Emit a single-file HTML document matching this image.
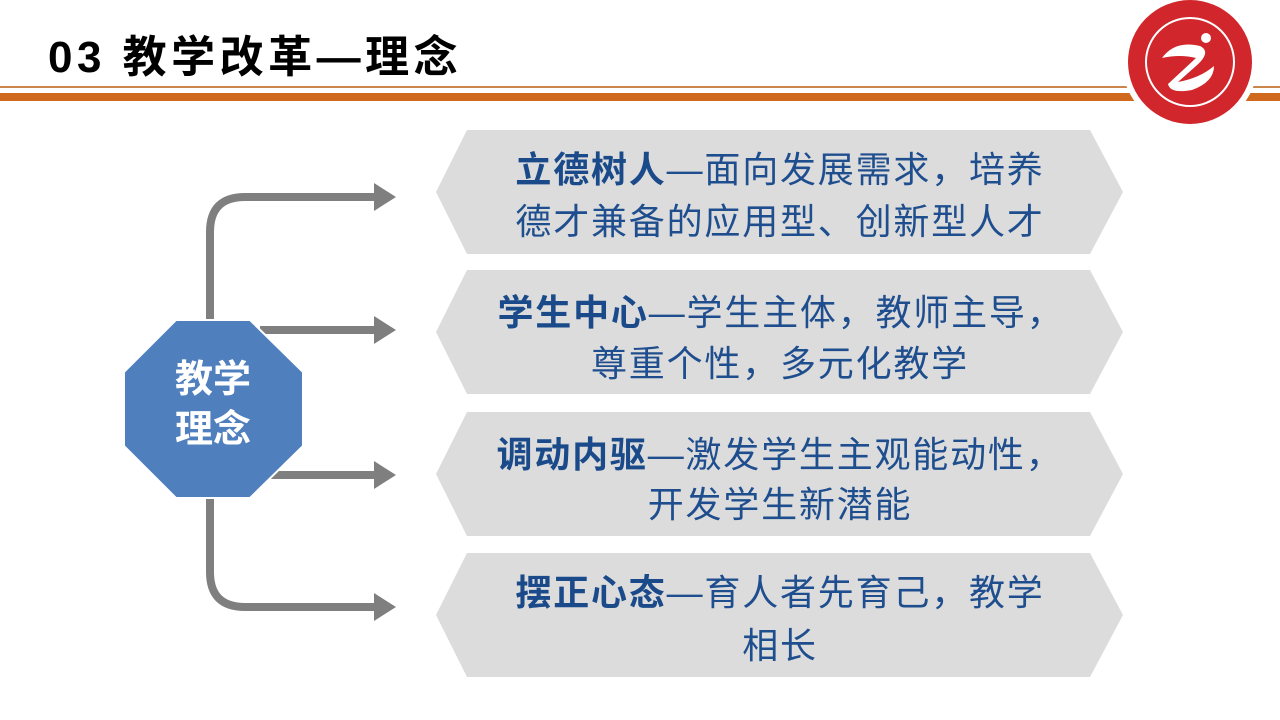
<!DOCTYPE html>
<html><head><meta charset="utf-8"><style>
body{margin:0;width:1280px;height:720px;background:#fff;position:relative;overflow:hidden;font-family:"Liberation Sans","Noto Sans CJK SC",sans-serif}
.t{position:absolute;white-space:nowrap;text-align:center;width:800px;left:380px;font-size:36px;line-height:40px;color:#1f4e8f;letter-spacing:1.8px}
.t b{color:#1a4a8a}
</style></head><body>
<div style="position:absolute;left:48px;top:30px;font-size:44px;font-weight:bold;color:#000;line-height:56px;white-space:nowrap;letter-spacing:4.5px">03 教学改革—理念</div>
<div style="position:absolute;left:0;top:86px;width:1280px;height:2px;background:#c9854a"></div>
<div style="position:absolute;left:0;top:93px;width:1280px;height:8px;background:#d0691e"></div>
<svg width="1280" height="720" style="position:absolute;left:0;top:0">
<g>
<circle cx="1190" cy="62" r="68" fill="#fff"/>
<circle cx="1190" cy="62" r="62" fill="#d1262b"/>
<circle cx="1190" cy="62" r="44" fill="none" stroke="#fff" stroke-width="2"/>
<circle cx="1190" cy="62" r="40" fill="#d1262b"/>
<path d="M1162 58 Q1175 40 1200 46 Q1212 52 1196 66 L1178 82 Q1200 78 1214 66 Q1214 82 1192 90 Q1170 94 1168 84 L1196 58 Q1180 54 1162 58Z" fill="#fff"/>
<circle cx="1206" cy="38" r="5" fill="#fff"/>
<text x="1190" y="86" font-size="7" fill="#fff" text-anchor="middle" font-family="Liberation Sans">1958</text>
</g>
<g fill="#dcdcdc">
<polygon points="467,130 1090,130 1123,192 1090,254 467,254 436,192"/>
<polygon points="467,270 1090,270 1123,332 1090,394 467,394 436,332"/>
<polygon points="467,412 1090,412 1123,474 1090,536 467,536 436,474"/>
<polygon points="467,553 1090,553 1123,615 1090,677 467,677 436,615"/>
</g>
<g stroke="#7f7f7f" stroke-width="8" fill="none">
<path d="M210 330 L210 232 Q210 197 245 197 L378 197"/>
<path d="M260 330 L378 330"/>
<path d="M260 475 L378 475"/>
<path d="M210 490 L210 572 Q210 607 245 607 L378 607"/>
</g>
<g fill="#7f7f7f">
<polygon points="374,183 396,197 374,211"/>
<polygon points="374,316 396,330 374,344"/>
<polygon points="374,461 396,475 374,489"/>
<polygon points="374,593 396,607 374,621"/>
</g>
<polygon points="176,320 250,320 303,372 303,446 250,498 176,498 124,446 124,372" fill="#4f7fbd" stroke="#fff" stroke-width="2"/>
<text x="213" y="392" font-size="38" font-weight="bold" fill="#fff" text-anchor="middle" font-family="Liberation Sans,Noto Sans CJK SC,sans-serif">教学</text>
<text x="213" y="442" font-size="38" font-weight="bold" fill="#fff" text-anchor="middle" font-family="Liberation Sans,Noto Sans CJK SC,sans-serif">理念</text>
</svg>
<div class="t" style="top:150px"><b>立德树人</b>—面向发展需求，培养</div>
<div class="t" style="top:202px">德才兼备的应用型、创新型人才</div>
<div class="t" style="top:293px;left:381px"><b>学生中心</b>—学生主体，教师主导，</div>
<div class="t" style="top:344px">尊重个性，多元化教学</div>
<div class="t" style="top:435px;left:380px"><b>调动内驱</b>—激发学生主观能动性，</div>
<div class="t" style="top:485px">开发学生新潜能</div>
<div class="t" style="top:573px"><b>摆正心态</b>—育人者先育己，教学</div>
<div class="t" style="top:626px">相长</div>
</body></html>
